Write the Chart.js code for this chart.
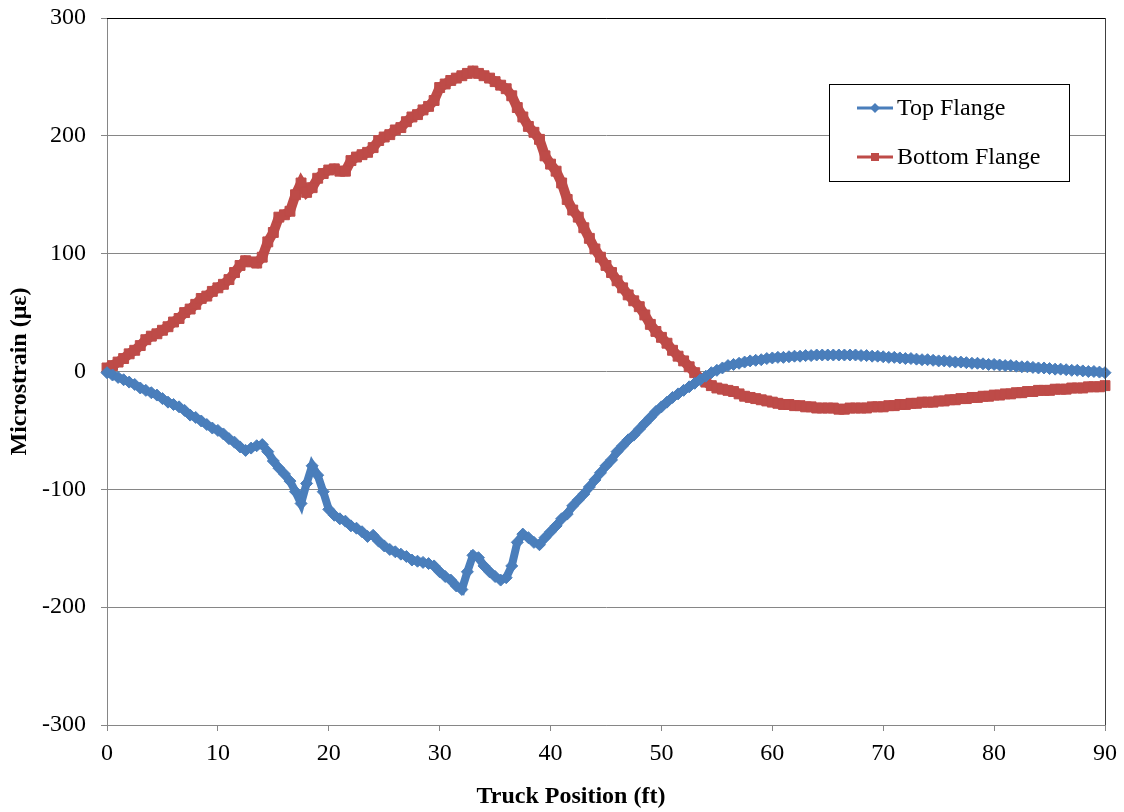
<!DOCTYPE html>
<html><head><meta charset="utf-8">
<script src="https://cdn.jsdelivr.net/npm/chart.js@4.4.1/dist/chart.umd.min.js"></script>
<style>html,body{margin:0;padding:0;background:#fff;overflow:hidden}#wrap{width:1124px;height:812px}</style>
</head><body><div id="wrap"><canvas id="c" width="1124" height="812"></canvas></div>
<script>
// Truck position (ft)
const positionsFt = [
0,0.5,1,1.5,2,2.5,3,3.5,4,4.5,5,5.5,6,6.5,7,7.5,8,8.5,9,9.5,
10,10.5,11,11.5,12,12.5,13,13.5,14,14.5,15,15.5,16,16.5,17,17.5,18,18.5,19,19.5,
20,20.5,21,21.5,22,22.5,23,23.5,24,24.5,25,25.5,26,26.5,27,27.5,28,28.5,29,29.5,
30,30.5,31,31.5,32,32.5,33,33.5,34,34.5,35,35.5,36,36.5,37,37.5,38,38.5,39,39.5,
40,40.5,41,41.5,42,42.5,43,43.5,44,44.5,45,45.5,46,46.5,47,47.5,48,48.5,49,49.5,
50,50.5,51,51.5,52,52.5,53,53.5,54,54.5,55,55.5,56,56.5,57,57.5,58,58.5,59,59.5,
60,60.5,61,61.5,62,62.5,63,63.5,64,64.5,65,65.5,66,66.5,67,67.5,68,68.5,69,69.5,
70,70.5,71,71.5,72,72.5,73,73.5,74,74.5,75,75.5,76,76.5,77,77.5,78,78.5,79,79.5,
80,80.5,81,81.5,82,82.5,83,83.5,84,84.5,85,85.5,86,86.5,87,87.5,88,88.5,89,89.5,90];

// Top Flange microstrain
const topFlange = [
-1,-3,-5,-7,-9,-11,-14,-16,-18,-20,-23,-26,-28,-30,-33,-37,-39,-42,-45,-48,
-50,-53,-57,-60,-64,-67,-65,-63,-62,-68,-76,-82,-87,-93,-102,-112,-95,-80,-88,-102,
-117,-122,-125,-127,-131,-133,-136,-140,-139,-144,-148,-151,-153,-155,-157,-160,-161,-162,-163,-165,
-170,-174,-177,-182,-185,-170,-156,-158,-165,-170,-174,-177,-175,-165,-145,-138,-141,-145,-147,-141,
-136,-131,-125,-121,-114,-109,-104,-98,-92,-86,-80,-75,-68,-63,-58,-54,-49,-44,-39,-34,
-30,-26,-22,-19,-16,-13,-10,-7,-4,-1,1,3,5,6,7,8,9,9.5,10,11,
11.5,12,12,12.5,13,13,13.5,13.5,14,14,14,14,14,14,14,14,13.5,13.5,13,13,
12.5,12,12,11.5,11,11,10.5,10,10,9.5,9,9,8.5,8,8,7.5,7,7,6.5,6,
6,5.5,5,5,4.5,4,4,3.5,3,3,2.5,2,2,1.5,1,1,0.5,0,0,-0.5,-1];

// Bottom Flange microstrain
const bottomFlange = [
3,5,8,11,15,18,22,27,30,32,35,38,42,45,50,53,57,62,64,68,
71,74,78,84,90,94,93,92,97,110,118,131,133,136,150,160,152,156,164,168,
171,172,170,170,179,182,184,186,190,196,199,201,205,207,212,216,218,222,225,230,
241,244,247,249,251,253,255,253,251,249,246,243,240,234,224,216,208,203,197,183,
176,170,160,146,137,131,122,113,104,97,90,84,77,71,65,60,55,48,40,34,
29,24,18,13,9,4,-1,-6,-9,-12,-14,-15,-16,-17,-19,-21,-22,-23,-24,-25,
-26,-27,-28,-28,-29,-29,-30,-30,-31,-31,-31,-31,-32,-32,-31,-31,-31,-31,-30,-30,
-30,-29,-29,-28,-28,-27,-27,-26,-26,-26,-25,-25,-24,-24,-23,-23,-22,-22,-21,-21,
-20,-20,-19,-19,-18,-18,-17,-17,-16,-16,-16,-15,-15,-15,-14,-14,-14,-13,-13,-13,-12];

const seriesNames = ['Top Flange', 'Bottom Flange'];
const seriesColors = ['#4A7EBB', '#BE4B48'];
const xTitle = 'Truck Position (ft)';
const yTitle = 'Microstrain (\u03bc\u03b5)';

const FONT = '"Liberation Serif", "Times New Roman", Times, serif';
Chart.defaults.font.family = FONT;
Chart.defaults.font.size = 24;
Chart.defaults.color = '#000';

function pts(ys){ return positionsFt.map((x,i)=>({x:x, y:ys[i]})); }

const decor = {
  id: 'decor',
  afterDraw(chart){
    const ctx = chart.ctx, a = chart.chartArea;
    ctx.save();
    // plot border (top, right)
    ctx.strokeStyle = '#000'; ctx.lineWidth = 1;
    ctx.beginPath(); ctx.moveTo(a.left, a.top+0.5); ctx.lineTo(a.right+0.5, a.top+0.5); ctx.stroke();
    ctx.strokeStyle = '#404040';
    ctx.beginPath(); ctx.moveTo(a.right+0.5, a.top); ctx.lineTo(a.right+0.5, a.bottom); ctx.stroke();
    // axis titles
    ctx.fillStyle = '#000';
    ctx.font = 'bold 24px ' + FONT;
    ctx.textAlign = 'center'; ctx.textBaseline = 'middle';
    ctx.fillText(xTitle, 571, 797);
    ctx.translate(20, (a.top + a.bottom)/2);
    ctx.rotate(-Math.PI/2);
    ctx.fillText(yTitle, 0, 0);
    ctx.restore();
    // legend
    ctx.save();
    ctx.fillStyle = '#fff';
    ctx.fillRect(829.5, 84.5, 240, 97);
    ctx.strokeStyle = '#000'; ctx.lineWidth = 1;
    ctx.strokeRect(829.5, 84.5, 240, 97);
    const rows = [108, 157];
    chart.data.datasets.forEach((ds, i) => {
      const y = rows[i];
      ctx.strokeStyle = ds.borderColor; ctx.lineWidth = 3;
      ctx.beginPath(); ctx.moveTo(857, y); ctx.lineTo(893, y); ctx.stroke();
      ctx.fillStyle = ds.borderColor;
      ctx.beginPath();
      if (ds.pointStyle === 'rectRot') {
        ctx.moveTo(875, y-5); ctx.lineTo(880, y); ctx.lineTo(875, y+5); ctx.lineTo(870, y); ctx.closePath();
      } else {
        ctx.rect(871, y-4, 8, 8);
      }
      ctx.fill();
      ctx.fillStyle = '#000';
      ctx.font = '24px ' + FONT;
      ctx.textAlign = 'left'; ctx.textBaseline = 'middle';
      ctx.fillText(ds.label, 897, y+1);
    });
    ctx.restore();
  }
};

new Chart(document.getElementById('c'), {
  type: 'line',
  data: {
    datasets: [
      { label: seriesNames[0], data: pts(topFlange), borderColor: seriesColors[0], backgroundColor: seriesColors[0],
        borderWidth: 8, borderJoinStyle: 'miter', pointStyle: 'rectRot', pointRadius: 6, pointBorderWidth: 1, pointHoverRadius: 6, clip: false, tension: 0 },
      { label: seriesNames[1], data: pts(bottomFlange), borderColor: seriesColors[1], backgroundColor: seriesColors[1],
        borderWidth: 10, borderJoinStyle: 'miter', pointStyle: 'rect', pointRadius: 7, pointBorderWidth: 1, pointHoverRadius: 7, clip: false, tension: 0 }
    ]
  },
  options: {
    responsive: false, animation: false, devicePixelRatio: 1,
    layout: { padding: { left: 0, right: 19, top: 18, bottom: 0 } },
    plugins: { legend: { display: false }, tooltip: { enabled: false } },
    scales: {
      x: {
        type: 'linear', min: 0, max: 90,
        ticks: { stepSize: 10, padding: 8, color: '#000', font: { size: 24 } },
        grid: { drawOnChartArea: false, drawTicks: true, tickLength: 6, color: '#868686' },
        border: { color: '#868686', width: 1 },
        afterFit(s){ s.height = 87; s.paddingLeft = 0; s.paddingRight = 0; }
      },
      y: {
        min: -300, max: 300,
        ticks: { stepSize: 100, padding: 15, color: '#000', font: { size: 24 } },
        grid: { color: '#868686', tickLength: 6, lineWidth: 1 },
        border: { color: '#868686', width: 1 },
        afterFit(s){ s.width = 107; s.paddingTop = 0; s.paddingBottom = 0; }
      }
    }
  },
  plugins: [decor]
});
</script>
</body></html>
